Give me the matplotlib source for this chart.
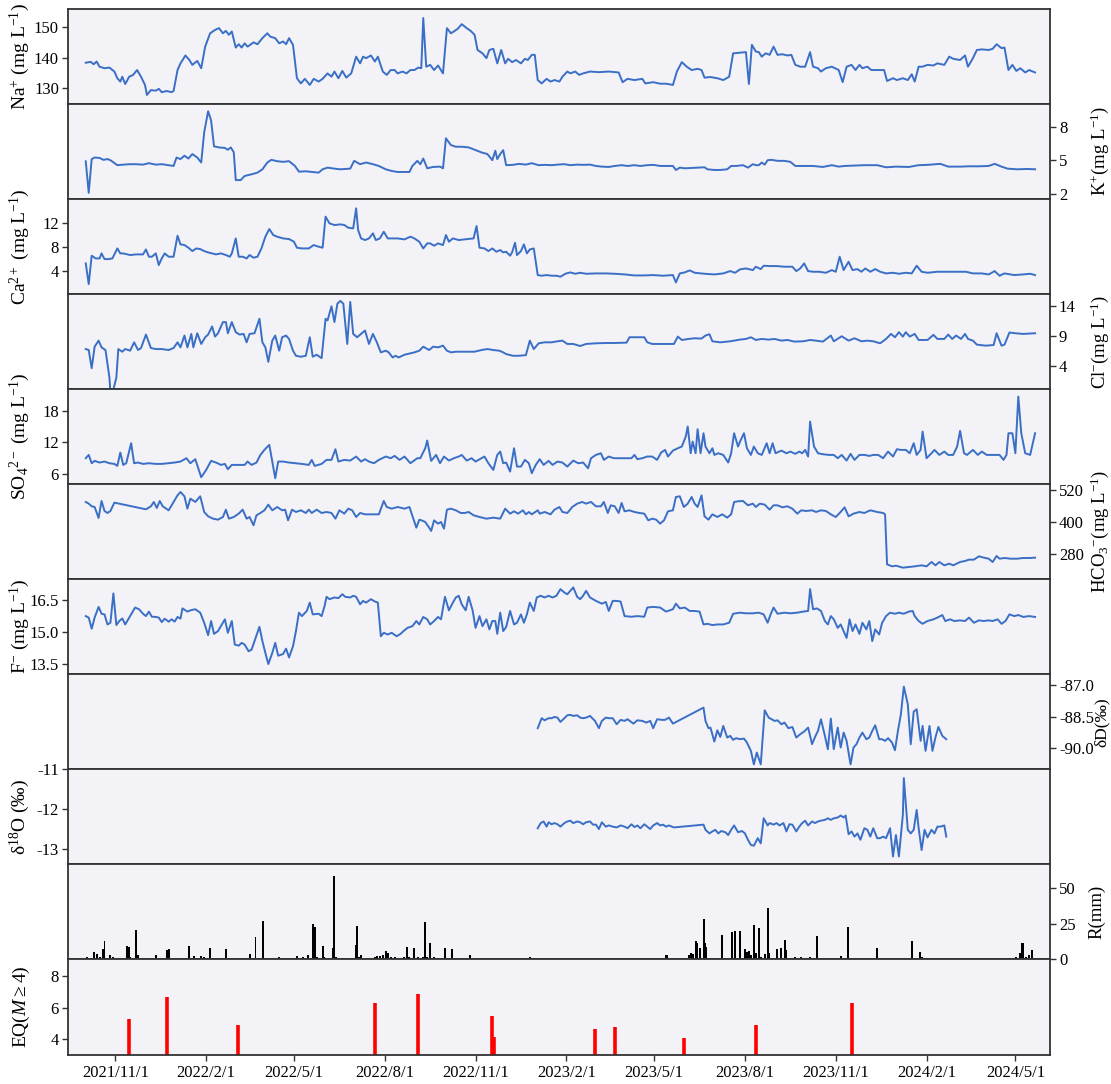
import numpy as np
import pandas as pd
import matplotlib
matplotlib.use("Agg")
import matplotlib.pyplot as plt
from matplotlib.ticker import FixedLocator, FuncFormatter, FormatStrFormatter

plt.rcParams['font.family'] = ['Liberation Serif', 'DejaVu Serif']
plt.rcParams['mathtext.fontset'] = 'custom'
plt.rcParams['mathtext.rm'] = 'Liberation Serif'
plt.rcParams['mathtext.it'] = 'Liberation Serif:italic'
plt.rcParams['axes.unicode_minus'] = False

# ---------------- data (day offset from 2021-11-01, value) ----------------
NA = [(-30,138.3),(-25,138.6),(-22,137.8),(-19,138.7),(-16,137.0),(-11,136.5),(-6,136.7),(-1,135.4),(2,133.2),(5,132.1),(7,133.7),(10,131.3),(14,133.7),(18,134.3),(22,135.9),(26,133.7),(30,131.0),(32,127.7),(36,129.3),(41,129.1),(44,129.7),(47,128.6),(52,129.0),(57,128.6),(59,129.0),(63,135.9),(66,138.1),(71,140.7),(75,139.2),(78,137.6),(83,138.9),(87,136.5),(91,143.6),(96,148.0),(101,149.1),(105,149.7),(109,148.0),(112,148.8),(115,147.5),(118,148.6),(122,143.3),(125,144.4),(128,143.3),(131,144.7),(134,143.6),(140,145.0),(144,144.4),(149,146.4),(154,148.0),(157,146.9),(162,146.4),(166,144.7),(170,145.3),(173,144.4),(176,146.4),(180,144.2),(184,133.2),(188,131.5),(192,133.0),(197,131.0),(201,133.0),(206,132.1),(210,133.0),(215,134.8),(219,133.7),(222,135.4),(226,133.2),(230,135.6),(234,133.4),(239,134.8),(244,140.3),(248,138.1),(251,140.3),(254,139.8),(259,140.7),(263,138.7),(266,140.3),(271,135.4),(275,134.3),(279,135.9),(283,135.9),(286,134.8),(291,135.4),(295,134.8),(299,135.9),(303,135.9),(307,136.7),(310,136.5),(312,153.0),(315,137.0),(319,137.6),(323,135.9),(327,137.4),(332,134.8),(336,149.7),(340,148.0),(343,148.6),(347,149.5),(351,151.0),(356,149.7),(360,148.8),(364,147.5),(367,142.5),(372,141.4),(376,139.8),(379,142.5),(383,142.9),(387,138.1),(391,142.5),(395,138.1),(398,139.6),(402,138.5),(406,139.2),(411,138.1),(415,139.6),(418,139.2),(422,140.9),(425,140.9),(428,132.6),(432,131.5),(437,133.0),(441,132.1),(445,132.6),(450,132.1),(453,133.7),(458,135.4),(461,134.8),(466,135.4),(470,134.3),(474,134.8),(481,135.4),(490,135.2),(500,135.4),(510,135.1),(514,131.9),(519,133.0),(526,132.6),(534,133.0),(537,131.5),(545,131.9),(552,131.4),(558,131.4),(565,131.0),(569,135.4),(574,138.5),(579,137.0),(584,135.9),(590,136.3),(594,135.9),(597,133.4),(603,133.6),(610,133.2),(616,132.6),(622,133.7),(626,141.4),(633,141.6),(639,141.8),(642,131.3),(645,144.2),(649,142.0),(652,141.8),(655,140.3),(659,141.4),(663,140.9),(667,143.6),(671,140.9),(676,141.1),(681,140.7),(685,140.9),(689,137.6),(694,137.0),(699,137.0),(704,141.8),(707,137.0),(712,136.5),(715,135.4),(720,136.5),(726,137.0),(733,135.9),(737,131.9),(741,137.0),(746,137.6),(750,135.9),(754,137.6),(757,136.5),(762,137.0),(766,135.9),(775,135.9),(779,135.9),(782,132.3),(788,133.2),(792,132.6),(798,133.2),(803,132.6),(807,134.5),(810,132.1),(814,137.0),(818,137.0),(823,137.6),(829,137.4),(833,138.1),(840,137.6),(845,140.3),(849,139.6),(856,139.2),(861,140.7),(864,137.0),(869,139.8),(873,142.5),(878,142.7),(885,142.5),(889,142.9),(893,144.4),(898,143.1),(901,143.3),(905,135.9),(909,137.6),(913,135.6),(917,136.5),(922,135.1),(926,135.9),(932,135.1)]

K = [(-30,4.9),(-27,2.06),(-24,5.1),(-21,5.24),(-16,5.2),(-12,5.03),(-8,5.1),(-5,5.0),(2,4.55),(8,4.6),(15,4.64),(21,4.64),(28,4.6),(34,4.73),(41,4.6),(47,4.64),(54,4.55),(59,4.48),(62,5.24),(66,5.1),(70,5.4),(74,5.15),(78,5.55),(83,5.24),(87,4.79),(90,7.5),(94,9.4),(97,8.58),(100,6.24),(105,6.15),(111,6.1),(114,5.94),(117,6.15),(120,5.7),(122,3.21),(127,3.21),(131,3.58),(138,3.73),(144,3.88),(149,4.18),(154,4.79),(158,5.03),(164,4.91),(170,4.85),(176,4.91),(182,4.48),(186,3.97),(193,4.0),(199,3.94),(206,3.88),(210,4.18),(215,4.33),(222,4.24),(228,4.18),(238,4.24),(242,4.94),(248,4.64),(254,4.79),(261,4.64),(267,4.48),(274,4.18),(280,4.03),(286,3.94),(293,3.94),(298,3.94),(301,4.48),(306,4.94),(309,4.64),(312,5.15),(316,4.27),(322,4.39),(329,4.42),(332,4.27),(335,6.97),(340,6.36),(345,6.21),(351,6.21),(358,6.15),(364,5.94),(371,5.7),(377,5.55),(382,5.0),(385,5.85),(387,5.1),(390,5.55),(393,5.9),(396,4.55),(403,4.58),(409,4.67),(416,4.6),(422,4.73),(429,4.55),(435,4.58),(442,4.55),(448,4.6),(455,4.64),(461,4.55),(468,4.6),(474,4.58),(481,4.6),(487,4.48),(493,4.42),(500,4.39),(506,4.48),(513,4.55),(519,4.48),(526,4.55),(532,4.48),(539,4.55),(545,4.58),(552,4.48),(565,4.48),(568,4.12),(572,4.33),(577,4.27),(584,4.3),(590,4.33),(597,4.36),(600,4.18),(607,4.12),(613,4.12),(620,4.18),(624,4.48),(629,4.48),(636,4.55),(641,4.33),(646,4.64),(649,4.55),(652,4.55),(655,4.79),(658,4.6),(661,5.0),(665,5.03),(671,4.94),(678,4.94),(684,4.85),(689,4.48),(697,4.48),(707,4.48),(717,4.39),(726,4.55),(733,4.42),(739,4.48),(749,4.52),(759,4.55),(772,4.55),(781,4.36),(791,4.42),(804,4.39),(814,4.55),(823,4.58),(836,4.67),(844,4.42),(856,4.42),(865,4.45),(875,4.45),(885,4.48),(891,4.67),(898,4.42),(904,4.24),(914,4.18),(924,4.21),(932,4.18)]

CA = [(-30,5.24),(-27,1.75),(-24,6.54),(-20,6.08),(-16,6.08),(-14,6.93),(-11,5.97),(-7,5.97),(-3,6.08),(2,7.77),(5,6.93),(8,6.93),(15,6.65),(21,6.76),(28,6.76),(31,7.6),(34,6.37),(37,6.37),(41,6.93),(44,4.96),(47,6.08),(50,6.93),(54,6.37),(59,6.37),(63,9.92),(66,8.45),(70,8.34),(74,7.89),(78,7.32),(82,7.77),(86,7.66),(90,7.32),(94,7.1),(98,6.93),(102,6.76),(107,6.93),(112,6.65),(116,6.37),(118,6.93),(122,9.46),(125,6.37),(129,6.37),(133,6.08),(136,6.65),(140,6.2),(144,6.37),(148,7.77),(152,9.75),(156,11.04),(160,10.03),(164,9.75),(170,9.46),(176,9.35),(181,8.9),(184,7.89),(189,7.77),(196,7.77),(201,8.34),(206,8.06),(210,7.89),(213,13.13),(217,12.0),(222,11.72),(228,11.83),(232,11.72),(236,11.27),(241,11.15),(244,14.54),(246,10.87),(249,9.46),(253,9.18),(257,9.46),(261,10.31),(264,9.18),(268,9.46),(272,10.59),(276,9.46),(280,9.46),(286,9.46),(293,9.3),(299,9.75),(303,9.46),(308,8.9),(312,7.77),(316,8.62),(319,8.62),(323,8.23),(327,8.62),(332,8.34),(335,10.03),(338,8.9),(342,9.46),(348,9.18),(354,9.3),(363,9.46),(366,11.55),(369,7.89),(374,7.77),(378,7.32),(382,7.77),(386,7.21),(390,7.49),(393,7.1),(396,7.21),(400,6.54),(402,7.1),(405,8.73),(407,6.65),(411,7.32),(414,8.45),(417,6.93),(420,7.6),(424,7.77),(428,3.27),(432,3.16),(437,3.27),(442,3.16),(447,3.16),(451,2.99),(456,3.49),(461,3.72),(466,3.49),(471,3.66),(477,3.49),(487,3.55),(497,3.55),(506,3.49),(516,3.38),(526,3.21),(536,3.21),(545,3.27),(555,3.16),(565,3.27),(568,2.03),(572,3.55),(577,3.72),(582,4.06),(587,3.66),(597,3.49),(607,3.38),(616,3.55),(623,3.94),(628,3.66),(633,4.23),(639,4.39),(646,4.11),(649,4.68),(654,4.28),(657,4.85),(663,4.79),(670,4.79),(678,4.68),(686,4.68),(690,3.94),(694,4.39),(698,5.24),(702,3.94),(707,3.83),(713,3.83),(720,3.66),(726,4.11),(730,3.83),(734,6.37),(738,4.11),(743,5.52),(747,4.11),(752,4.28),(756,3.83),(760,4.39),(765,3.83),(770,4.28),(775,3.83),(781,3.55),(788,3.66),(794,3.49),(801,3.66),(807,3.55),(812,4.85),(817,3.83),(823,3.66),(833,3.83),(843,3.83),(852,3.83),(862,3.83),(869,3.55),(878,3.55),(885,3.38),(891,3.94),(896,3.16),(901,3.55),(911,3.27),(920,3.38),(927,3.49),(932,3.27)]

CL = [(-30,6.83),(-27,6.67),(-24,3.67),(-21,7.22),(-17,8.22),(-14,7.11),(-10,6.67),(-6,2.1),(-5,-0.5),(-3,-0.5),(1,2.1),(3,6.83),(7,6.39),(10,6.83),(15,6.56),(19,7.94),(23,6.67),(26,7.0),(31,9.22),(36,7.0),(41,6.83),(47,6.83),(54,6.67),(59,7.0),(63,7.94),(66,7.11),(70,9.06),(73,7.11),(77,9.33),(79,7.11),(83,9.44),(87,7.67),(91,8.78),(94,9.22),(98,10.56),(101,8.89),(104,9.44),(109,11.28),(112,11.28),(114,9.44),(118,11.28),(122,9.61),(126,9.22),(130,9.33),(133,7.94),(136,9.33),(141,9.44),(146,11.83),(149,7.94),(152,7.11),(155,4.72),(159,8.22),(162,9.06),(166,6.56),(169,8.78),(173,9.06),(176,8.5),(180,6.56),(183,5.72),(188,5.56),(193,5.72),(197,8.78),(200,5.56),(204,5.89),(209,5.33),(213,11.83),(215,11.56),(219,13.89),(222,11.28),(225,14.33),(228,14.78),(231,14.33),(235,7.67),(238,14.61),(241,9.33),(245,8.78),(249,9.33),(253,9.89),(257,7.67),(261,9.33),(265,7.94),(269,6.28),(274,6.56),(277,6.28),(281,5.44),(284,5.72),(287,5.44),(293,5.89),(303,6.28),(308,6.56),(312,7.22),(318,6.67),(322,7.22),(327,7.11),(332,7.39),(336,6.56),(340,6.28),(345,6.39),(354,6.39),(364,6.39),(371,6.67),(377,6.83),(383,6.67),(389,6.56),(393,6.28),(396,6.0),(403,5.72),(409,5.72),(416,5.83),(420,8.22),(424,6.83),(429,7.78),(435,7.94),(442,7.94),(448,8.11),(453,8.22),(458,7.67),(464,7.67),(471,7.33),(477,7.67),(487,7.78),(497,7.83),(506,7.83),(518,7.89),(521,8.78),(529,8.78),(536,8.78),(539,7.94),(544,7.67),(552,7.67),(561,7.67),(566,7.67),(570,8.89),(574,8.33),(581,8.5),(587,8.61),(594,8.56),(598,9.06),(602,9.28),(605,8.11),(613,7.94),(623,8.11),(633,8.39),(639,8.5),(644,8.78),(649,8.33),(655,8.5),(662,8.39),(668,8.5),(675,8.22),(681,8.33),(688,8.06),(697,8.11),(704,8.33),(710,8.22),(717,8.06),(725,9.06),(728,8.11),(736,8.94),(743,8.22),(749,8.61),(756,8.11),(762,8.22),(768,8.11),(775,7.78),(781,8.5),(786,9.33),(790,8.78),(794,9.61),(798,8.89),(801,9.61),(805,8.89),(810,9.33),(814,8.33),(823,8.33),(829,9.17),(833,8.5),(840,8.5),(844,9.22),(848,8.5),(852,9.06),(857,8.5),(861,9.33),(864,8.5),(869,8.22),(873,7.56),(882,7.39),(890,7.5),(893,9.44),(898,7.39),(901,7.56),(906,9.56),(912,9.44),(920,9.33),(932,9.44)]

SO4 = [(-30,8.94),(-27,9.57),(-24,7.98),(-21,8.43),(-16,8.11),(-11,8.3),(-6,7.98),(-1,7.85),(2,7.47),(5,10.02),(8,7.66),(11,7.98),(16,11.81),(19,7.98),(23,8.11),(28,7.85),(34,7.98),(41,7.85),(47,7.85),(54,7.98),(60,8.11),(66,8.3),(72,8.94),(76,7.98),(81,8.75),(87,5.3),(92,6.7),(97,8.43),(102,8.11),(107,7.66),(111,7.85),(114,6.83),(118,7.66),(125,7.66),(131,7.66),(134,8.3),(138,7.66),(143,8.11),(147,9.57),(151,10.53),(156,11.49),(159,8.3),(162,5.11),(165,8.3),(170,8.3),(176,8.11),(183,7.98),(189,7.85),(196,7.66),(199,8.62),(202,7.47),(209,7.85),(214,8.62),(219,8.62),(223,10.66),(226,8.3),(232,8.62),(238,8.49),(244,9.26),(249,8.3),(253,8.75),(257,8.3),(262,7.98),(267,8.62),(274,9.26),(279,8.94),(283,9.38),(288,8.62),(293,9.26),(299,7.98),(306,8.94),(309,8.94),(314,10.85),(316,12.32),(320,8.43),(325,9.57),(329,7.98),(333,9.26),(338,8.49),(343,8.94),(348,9.26),(351,9.57),(356,8.49),(361,8.94),(365,8.3),(371,8.94),(374,9.26),(378,7.98),(383,6.7),(387,9.57),(390,10.21),(393,7.98),(396,8.11),(400,6.38),(404,10.85),(407,7.34),(411,7.34),(415,8.62),(419,7.98),(422,6.07),(426,7.66),(430,8.75),(434,7.66),(439,8.43),(443,7.66),(448,8.3),(453,8.11),(458,7.34),(464,8.49),(469,7.98),(474,8.11),(479,7.02),(482,8.94),(487,9.57),(492,9.89),(495,8.62),(500,9.26),(505,8.94),(510,8.94),(516,8.94),(523,8.94),(526,9.57),(529,8.75),(534,8.94),(539,9.26),(544,9.26),(549,8.62),(553,10.02),(557,10.53),(560,9.26),(565,10.4),(570,10.85),(574,11.17),(578,13.08),(580,15.0),(583,9.89),(585,12.13),(588,9.89),(590,14.49),(593,9.89),(596,13.72),(598,11.17),(602,9.89),(605,10.85),(607,9.57),(611,9.89),(616,9.57),(621,8.11),(624,9.89),(627,13.72),(631,11.17),(633,12.13),(637,13.72),(640,10.85),(644,9.57),(647,11.17),(651,9.89),(655,9.57),(660,11.81),(663,9.89),(666,11.81),(669,9.89),(675,10.4),(680,9.89),(684,10.21),(689,9.77),(693,10.21),(696,9.89),(699,10.53),(702,9.26),(704,15.96),(708,11.17),(712,9.89),(717,9.7),(723,9.57),(728,9.57),(732,8.94),(736,9.57),(741,8.49),(745,9.77),(749,8.62),(754,9.57),(759,9.57),(764,9.38),(768,9.57),(773,9.57),(778,8.94),(783,10.21),(788,9.26),(792,10.66),(796,10.53),(801,10.53),(805,9.89),(809,11.81),(812,9.57),(816,10.53),(818,14.04),(822,8.94),(827,9.89),(830,10.53),(835,9.57),(840,10.21),(844,9.57),(849,9.57),(853,11.17),(856,14.17),(860,9.89),(863,9.57),(869,10.53),(874,9.57),(878,10.21),(883,9.57),(889,9.57),(896,9.57),(900,8.62),(903,9.57),(905,13.72),(909,13.72),(912,9.89),(915,20.74),(918,13.72),(922,9.89),(927,9.57),(932,13.72)]

HCO3 = [(-30,475.8),(-27,469.5),(-24,459.4),(-21,456.8),(-17,415.2),(-14,479.6),(-11,441.7),(-8,434.1),(-5,441.7),(-1,473.3),(31,448.0),(36,459.4),(39,475.8),(42,453.0),(45,479.6),(48,459.4),(54,444.2),(58,469.5),(63,501.0),(66,513.7),(70,497.3),(73,450.5),(76,488.4),(81,475.8),(86,497.3),(90,437.9),(94,421.5),(99,412.6),(104,408.8),(109,418.9),(112,446.7),(115,412.6),(120,418.9),(125,431.6),(129,446.7),(133,412.6),(136,418.9),(140,387.4),(143,425.3),(147,434.1),(151,444.2),(155,465.7),(159,444.2),(164,456.8),(169,444.2),(172,446.7),(175,406.3),(179,446.7),(183,437.9),(188,444.2),(193,434.1),(196,446.7),(199,434.1),(204,446.7),(209,434.1),(214,437.9),(219,434.1),(223,412.6),(227,444.2),(232,431.6),(236,450.5),(240,444.2),(244,418.9),(248,434.1),(253,429.0),(257,429.0),(264,429.0),(267,429.0),(272,479.6),(275,456.8),(280,450.5),(286,456.8),(293,450.5),(298,456.8),(303,400.0),(305,378.5),(308,408.8),(311,405.0),(314,400.0),(318,378.5),(320,365.9),(323,406.3),(327,393.7),(330,400.0),(333,374.7),(336,446.7),(340,450.5),(345,444.2),(350,434.1),(354,434.1),(358,437.9),(363,425.3),(369,418.9),(376,412.6),(383,416.4),(390,412.6),(395,450.5),(400,431.6),(404,440.4),(408,431.6),(413,444.2),(416,429.0),(419,437.9),(422,429.0),(428,444.2),(430,431.6),(435,437.9),(441,429.0),(445,446.7),(450,456.8),(453,437.9),(458,434.1),(463,456.8),(468,469.5),(473,475.8),(477,469.5),(482,475.8),(487,459.4),(492,459.4),(495,475.8),(499,434.1),(502,463.2),(506,459.4),(510,434.1),(513,472.0),(516,440.4),(521,444.2),(526,437.9),(531,434.1),(536,431.6),(540,406.3),(544,412.6),(548,408.8),(552,393.7),(556,406.3),(560,440.4),(565,444.2),(568,494.7),(572,497.3),(576,456.8),(580,469.5),(584,494.7),(587,469.5),(590,456.8),(594,501.0),(597,421.5),(601,408.8),(605,429.0),(610,418.9),(615,429.0),(620,416.4),(624,429.0),(627,475.8),(631,478.3),(636,479.6),(641,463.2),(646,469.5),(649,456.8),(653,469.5),(658,465.7),(663,446.7),(667,463.2),(671,463.2),(676,455.5),(681,459.4),(686,450.5),(691,431.6),(695,444.2),(700,441.7),(706,444.2),(710,437.9),(715,444.2),(720,441.7),(725,429.0),(730,418.9),(734,434.1),(739,455.5),(743,421.5),(748,431.6),(754,437.9),(759,434.1),(765,444.2),(772,437.9),(778,434.1),(780,429.0),(782,239.6),(787,232.0),(791,234.5),(798,227.0),(804,229.5),(810,232.0),(817,235.8),(822,232.0),(827,248.4),(831,235.8),(835,248.4),(840,235.8),(845,242.1),(849,235.8),(856,248.4),(861,252.2),(865,257.3),(870,257.3),(875,270.0),(880,265.0),(885,261.0),(889,248.4),(893,271.2),(896,261.0),(901,263.6),(907,261.0),(914,261.0),(920,263.6),(927,263.6),(932,265.0)]

FL = [(-30,15.75),(-27,15.68),(-24,15.16),(-21,15.68),(-17,16.18),(-14,15.86),(-11,15.83),(-8,15.36),(-5,15.44),(-2,16.81),(1,15.33),(4,15.52),(7,15.64),(10,15.36),(15,15.75),(20,16.15),(24,16.07),(28,15.86),(31,15.75),(34,15.96),(37,15.72),(41,15.71),(44,15.68),(47,15.47),(50,15.63),(54,15.49),(57,15.6),(60,15.49),(63,15.71),(66,15.63),(68,16.11),(73,15.96),(76,16.02),(81,16.07),(86,15.91),(90,15.44),(94,14.86),(97,15.52),(100,14.92),(104,15.05),(109,15.44),(111,15.6),(114,14.97),(118,15.52),(121,14.42),(125,14.37),(128,14.5),(131,14.42),(135,14.11),(138,14.18),(141,14.58),(146,15.25),(149,14.58),(152,14.03),(155,13.51),(159,14.03),(162,14.5),(165,13.9),(170,13.98),(173,14.23),(176,13.82),(180,14.34),(183,15.05),(186,15.91),(189,15.75),(194,15.99),(197,16.38),(200,15.83),(206,15.86),(209,15.75),(212,16.22),(214,16.65),(217,16.54),(222,16.62),(226,16.59),(230,16.77),(233,16.65),(238,16.62),(241,16.7),(244,16.65),(248,16.3),(251,16.46),(254,16.38),(259,16.54),(263,16.43),(266,16.38),(269,14.81),(272,14.97),(276,14.89),(280,14.97),(285,14.81),(289,14.92),(292,15.05),(296,15.2),(301,15.28),(305,15.52),(308,15.36),(312,15.71),(316,15.6),(319,15.36),(323,15.52),(327,15.71),(330,15.6),(334,16.65),(338,16.02),(342,16.38),(345,16.62),(348,16.7),(351,16.3),(355,16.02),(358,16.65),(362,16.02),(365,15.2),(369,15.75),(372,15.28),(376,15.6),(379,15.13),(382,15.52),(385,15.52),(387,14.92),(390,15.91),(393,15.05),(396,15.24),(400,15.99),(404,15.36),(407,15.44),(411,15.83),(414,15.44),(417,15.83),(420,16.38),(424,15.99),(427,16.62),(431,16.7),(435,16.62),(439,16.7),(443,16.62),(447,16.7),(451,17.01),(455,16.85),(458,16.77),(461,16.93),(464,17.09),(468,16.65),(471,16.54),(474,16.7),(477,16.93),(481,16.62),(487,16.46),(493,16.33),(497,16.41),(500,15.99),(504,16.46),(508,16.46),(512,16.43),(516,15.75),(523,15.72),(529,15.75),(536,15.72),(539,16.15),(545,16.18),(552,16.15),(558,15.96),(565,16.07),(568,16.33),(572,16.11),(577,16.15),(582,15.99),(587,15.99),(592,15.96),(596,15.36),(600,15.39),(605,15.33),(610,15.36),(616,15.36),(622,15.44),(626,15.86),(633,15.91),(639,15.88),(646,15.88),(652,15.91),(657,15.83),(661,15.44),(664,15.83),(667,16.15),(671,15.86),(678,15.91),(684,15.88),(691,15.91),(697,15.96),(702,15.99),(704,17.01),(707,16.07),(711,16.11),(715,15.99),(719,15.52),(722,15.36),(725,15.75),(728,15.6),(732,15.2),(735,15.36),(738,15.05),(741,14.73),(744,15.6),(747,15.05),(750,15.36),(754,14.92),(757,15.44),(761,15.13),(764,15.52),(767,14.58),(770,15.13),(774,14.89),(777,15.44),(781,15.75),(785,15.91),(790,15.86),(794,15.91),(799,15.86),(804,15.96),(808,15.99),(810,15.75),(814,15.52),(818,15.39),(823,15.52),(829,15.6),(833,15.68),(838,15.8),(841,15.52),(846,15.6),(850,15.52),(856,15.55),(861,15.52),(865,15.68),(870,15.44),(875,15.55),(880,15.52),(885,15.55),(889,15.52),(894,15.6),(898,15.39),(902,15.52),(906,15.83),(911,15.75),(915,15.8),(920,15.71),(926,15.75),(932,15.71)]

DD = [(428,-89.06),(432,-88.58),(435,-88.68),(439,-88.58),(442,-88.58),(445,-88.52),(448,-88.55),(451,-88.76),(455,-88.58),(458,-88.44),(461,-88.42),(464,-88.47),(468,-88.44),(471,-88.55),(474,-88.58),(477,-88.55),(481,-88.47),(486,-88.71),(490,-89.06),(493,-88.71),(497,-88.55),(500,-88.58),(504,-88.58),(508,-88.87),(512,-88.66),(516,-88.71),(519,-88.63),(525,-88.84),(529,-88.68),(534,-88.71),(538,-88.79),(542,-88.71),(545,-89.06),(549,-88.63),(554,-88.66),(557,-88.66),(561,-88.55),(565,-88.84),(596,-88.07),(598,-88.71),(601,-89.06),(603,-89.03),(607,-89.7),(610,-89.16),(613,-89.48),(616,-88.95),(620,-89.51),(623,-89.43),(626,-89.62),(629,-89.54),(633,-89.59),(637,-89.56),(640,-89.75),(644,-90.15),(647,-90.8),(650,-90.23),(654,-90.8),(658,-88.2),(662,-88.55),(665,-88.63),(668,-88.71),(671,-88.68),(675,-88.87),(678,-88.79),(682,-89.06),(686,-89.0),(690,-89.51),(694,-89.35),(698,-89.22),(702,-89.03),(706,-89.83),(709,-89.48),(712,-89.19),(715,-88.63),(719,-89.43),(722,-90.07),(725,-88.6),(728,-90.07),(732,-89.03),(735,-89.99),(738,-89.27),(741,-89.67),(745,-90.8),(748,-89.99),(751,-89.83),(754,-89.51),(757,-89.27),(761,-89.59),(764,-89.51),(767,-89.19),(770,-88.92),(774,-89.59),(777,-89.59),(780,-89.67),(783,-89.54),(787,-89.75),(790,-90.12),(793,-89.19),(796,-88.39),(799,-87.06),(803,-87.91),(806,-89.83),(809,-88.26),(812,-88.15),(816,-89.67),(818,-88.95),(821,-90.15),(825,-88.95),(828,-90.15),(831,-89.51),(834,-89.0),(838,-89.43),(842,-89.59)]

D18O = [(428,-12.48),(431,-12.35),(434,-12.31),(437,-12.44),(439,-12.33),(442,-12.38),(445,-12.35),(448,-12.38),(451,-12.44),(455,-12.35),(458,-12.31),(461,-12.29),(464,-12.35),(468,-12.31),(471,-12.33),(474,-12.38),(477,-12.33),(481,-12.31),(484,-12.39),(487,-12.39),(490,-12.5),(493,-12.33),(497,-12.44),(500,-12.41),(504,-12.44),(508,-12.46),(512,-12.41),(516,-12.44),(519,-12.48),(523,-12.38),(526,-12.45),(529,-12.41),(532,-12.48),(536,-12.38),(539,-12.44),(542,-12.5),(545,-12.41),(549,-12.35),(552,-12.41),(555,-12.39),(558,-12.44),(561,-12.41),(566,-12.46),(596,-12.39),(598,-12.52),(602,-12.61),(605,-12.56),(608,-12.52),(611,-12.61),(614,-12.55),(618,-12.58),(621,-12.65),(624,-12.52),(627,-12.41),(631,-12.58),(635,-12.55),(638,-12.61),(641,-12.77),(644,-12.9),(647,-12.92),(651,-12.73),(654,-12.86),(657,-12.23),(661,-12.41),(663,-12.35),(667,-12.39),(670,-12.35),(673,-12.41),(677,-12.35),(680,-12.56),(683,-12.38),(686,-12.39),(690,-12.56),(693,-12.44),(696,-12.35),(699,-12.29),(702,-12.41),(706,-12.31),(709,-12.35),(712,-12.31),(715,-12.29),(719,-12.27),(722,-12.23),(725,-12.27),(728,-12.23),(732,-12.21),(735,-12.16),(738,-12.21),(740,-12.16),(743,-12.63),(746,-12.56),(749,-12.69),(752,-12.61),(755,-12.77),(759,-12.48),(762,-12.52),(765,-12.69),(768,-12.48),(772,-12.73),(775,-12.73),(778,-12.69),(781,-12.73),(785,-12.48),(788,-13.19),(791,-12.65),(794,-13.19),(798,-12.14),(799,-11.22),(803,-12.52),(806,-12.61),(809,-12.52),(812,-12.02),(814,-12.48),(817,-13.03),(820,-12.52),(823,-12.71),(827,-12.52),(830,-12.61),(833,-12.44),(836,-12.44),(840,-12.41),(842,-12.69)]

RAIN = [(-29,1.6),(-22,4.9),(-19,3.5),(-16,1.9),(-13,7.0),(-11,12.9),(-8,1.2),(-5,2.8),(-2,1.4),(12,9.4),(14,8.5),(15,1.9),(21,20.4),(23,3.3),(41,2.8),(52,6.6),(54,7.3),(75,9.6),(80,2.3),(87,2.6),(90,1.4),(96,8.0),(112,7.0),(136,4.0),(142,15.7),(146,1.2),(150,27.2),(166,1.4),(184,2.1),(190,1.4),(195,2.8),(200,24.6),(202,23.0),(204,1.4),(210,9.4),(211,1.9),(221,8.2),(222,58.2),(224,1.4),(244,10.1),(245,23.7),(247,1.9),(249,2.8),(263,1.4),(265,2.6),(268,2.6),(271,2.8),(274,5.6),(276,4.2),(279,1.9),(283,1.9),(292,1.4),(296,8.5),(298,1.9),(303,7.7),(307,1.4),(312,1.9),(314,26.1),(316,1.4),(319,11.3),(323,1.4),(325,1.2),(334,7.7),(341,7.0),(359,3.1),(420,1.4),(422,0.9),(558,2.8),(559,3.3),(574,1.2),(581,3.1),(583,4.2),(585,3.5),(588,12.9),(589,11.3),(592,7.7),(596,28.2),(598,11.3),(599,8.9),(615,16.9),(625,19.5),(628,20.2),(633,20.2),(638,7.0),(640,5.4),(642,6.1),(644,3.1),(647,23.9),(649,4.7),(652,21.8),(654,1.9),(658,3.8),(661,35.9),(662,4.2),(670,7.0),(675,7.7),(679,13.6),(680,6.6),(689,1.9),(695,1.9),(704,1.4),(711,16.4),(735,2.3),(742,23.0),(746,1.2),(772,7.7),(807,12.7),(815,5.4),(817,1.9),(873,0.3),(882,0.3),(900,0.3),(913,1.4),(917,4.7),(919,11.3),(920,11.7),(923,1.9),(926,3.1),(929,6.6)]

EQ = [(14,5.26),(52,6.70),(124,4.88),(263,6.28),(307,6.89),(382,5.47),(384,4.16),(486,4.67),(506,4.77),(576,4.05),(649,4.88),(746,6.28)]

XTICK_DATES = ['2021-11-01','2022-02-01','2022-05-01','2022-08-01','2022-11-01',
               '2023-02-01','2023-05-01','2023-08-01','2023-11-01','2024-02-01','2024-05-01']

BASE = pd.Timestamp('2021-11-01')

def split(pairs):
    d, v = zip(*pairs)
    return BASE + pd.to_timedelta(np.array(d), unit='D'), np.array(v, dtype=float)

LINE_C = '#3b6fc6'
BG = '#f2f2f7'
SPINE = '#333333'

# data, label, side, ylim, ticks, fmt, label fontsize, label x (axes coords)
panels = [
    (NA,   r'Na$^{+}$ (mg L$^{-1}$)', 'left',  (124.7, 156.0), [130, 140, 150], '%d', 14, -0.037),
    (K,    r'K$^{+}$(mg L$^{-1}$)',   'right', (1.5, 10.05),   [2, 5, 8], '%d', 13.5, 1.039),
    (CA,   r'Ca$^{2+}$ (mg L$^{-1}$)','left',  (0.05, 16.1),   [4, 8, 12], '%d', 14, -0.037),
    (CL,   r'Cl$^{-}$(mg L$^{-1}$)',  'right', (0.2, 15.9),    [4, 9, 14], '%d', 13.5, 1.039),
    (SO4,  r'SO$_4$$^{2-}$ (mg L$^{-1}$)', 'left', (3.96, 22.15), [6, 12, 18], '%d', 14, -0.037),
    (HCO3, r'HCO$_3$$^{-}$(mg L$^{-1}$)', 'right', (183, 543), [280, 400, 520], '%d', 13.5, 1.039),
    (FL,   r'F$^{-}$ (mg L$^{-1}$)',  'left',  (13.03, 17.47), [13.5, 15.0, 16.5], '%.1f', 14, -0.037),
    (DD,   'δD(‰)',                   'right', (-91.04, -86.47), [-90.0, -88.5, -87.0], '%.1f', 12.5, 1.0445),
    (D18O, r'δ$^{18}$O (‰)',          'left',  (-13.39, -11.0), [-13, -12, -11], '%d', 14, -0.037),
    (RAIN, 'R(mm)',                   'right', (0, 66.4), [0, 25, 50], '%d', 13.5, 1.039),
    (EQ,   r'EQ($\mathit{M}$$\geq$4)', 'left', (3.03, 9.06), [4, 6, 8], '%d', 14, -0.037),
]

fig, axes = plt.subplots(len(panels), 1, figsize=(11.11, 10.84), dpi=100, sharex=True)
fig.subplots_adjust(left=0.0612, right=0.945, top=0.9917, bottom=0.0272, hspace=0)

for i, (ax, (data, label, side, ylim, ticks, fmt, lfs, lx)) in enumerate(zip(axes, panels)):
    ax.set_facecolor(BG)
    dates, vals = split(data)
    if data is RAIN:
        ax.bar(dates, vals, width=2.0, color='black', linewidth=0)
    elif data is EQ:
        ax.vlines(dates, 0, vals, color='red', linewidth=2.6)
    else:
        ax.plot(dates, vals, color=LINE_C, linewidth=1.4)
    ax.set_ylim(*ylim)
    ax.yaxis.set_major_locator(FixedLocator(ticks))
    ax.yaxis.set_major_formatter(FormatStrFormatter(fmt))
    for sp in ax.spines.values():
        sp.set_color(SPINE)
        sp.set_linewidth(1.3)
    if side == 'left':
        ax.yaxis.tick_left()
    else:
        ax.yaxis.tick_right()
        ax.yaxis.set_label_position('right')
    ax.set_ylabel(label, fontsize=lfs)
    ax.yaxis.set_label_coords(lx, 0.5)
    ax.tick_params(axis='y', labelsize=12, length=4.5, width=1.0, color=SPINE, pad=2)
    if i < len(panels) - 1:
        ax.tick_params(axis='x', bottom=False, labelbottom=False)

xt = pd.to_datetime(XTICK_DATES)
axb = axes[-1]
axb.set_xticks(xt)
axb.xaxis.set_major_formatter(FuncFormatter(
    lambda v, p: (lambda d: f"{d.year}/{d.month}/{d.day}")(matplotlib.dates.num2date(v))))
axb.tick_params(axis='x', labelsize=12, length=4.5, width=1.0, color=SPINE, pad=3)
axb.set_xlim(pd.Timestamp('2021-09-14'), pd.Timestamp('2024-06-05'))

fig.savefig('out.png', dpi=100)
